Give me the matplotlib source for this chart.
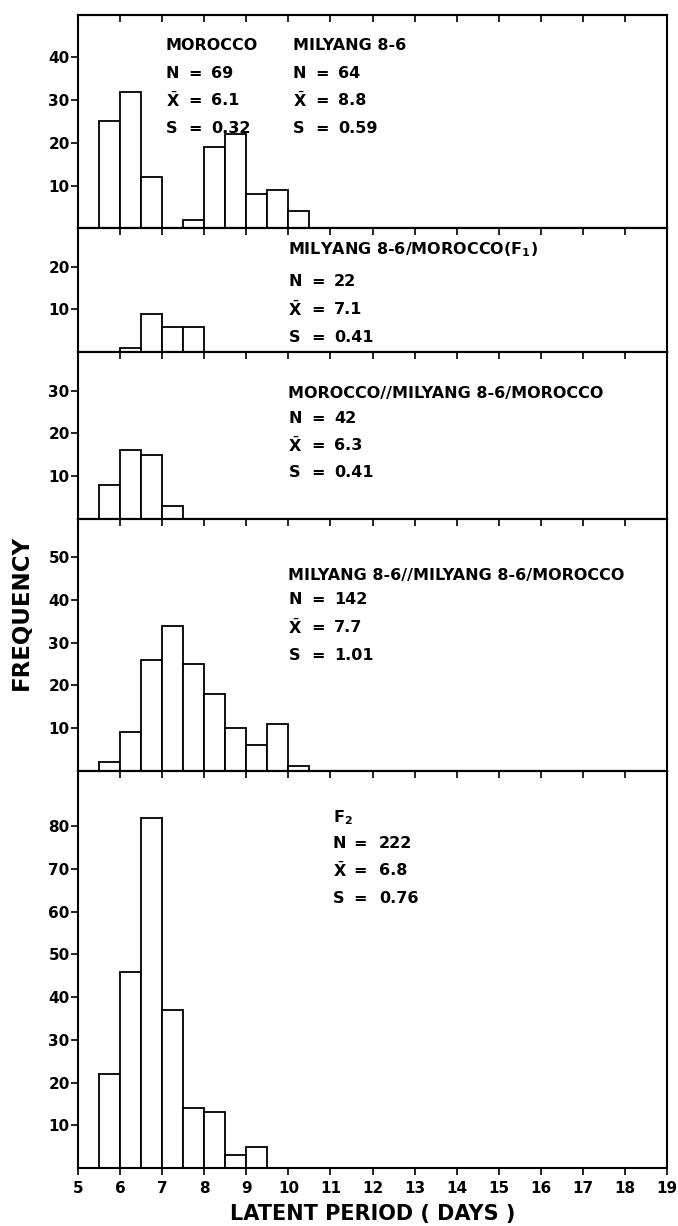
import matplotlib
matplotlib.use("Agg")
import matplotlib.pyplot as plt

plt.rcParams["font.family"] = ["DejaVu Sans"]
plt.rcParams["mathtext.fontset"] = "dejavusans"

# ---------------- data ----------------
bin_width = 0.5
x_ticks = list(range(5, 20))

p1_mor_edges = [5.5, 6.0, 6.5]
p1_mor_counts = [25, 32, 12]
p1_mil_edges = [7.5, 8.0, 8.5, 9.0, 9.5, 10.0]
p1_mil_counts = [2, 19, 22, 8, 9, 4]

p2_edges = [6.0, 6.5, 7.0, 7.5]
p2_counts = [1, 9, 6, 6]

p3_edges = [5.5, 6.0, 6.5, 7.0]
p3_counts = [8, 16, 15, 3]

p4_edges = [5.5, 6.0, 6.5, 7.0, 7.5, 8.0, 8.5, 9.0, 9.5, 10.0]
p4_counts = [2, 9, 26, 34, 25, 18, 10, 6, 11, 1]

p5_edges = [5.5, 6.0, 6.5, 7.0, 7.5, 8.0, 8.5, 9.0]
p5_counts = [22, 46, 82, 37, 14, 13, 3, 5]

panel_ylim = [50, 29, 39, 59, 93]
panel_yticks = [[10, 20, 30, 40], [10, 20], [10, 20, 30],
                [10, 20, 30, 40, 50], [10, 20, 30, 40, 50, 60, 70, 80]]

# stats blocks: (panel, x, title, N, mean, s, line y positions)
stat_blocks = [
    (0, 7.08, "MOROCCO", "69", "6.1", "0.32", [42.7, 36.2, 30.0, 23.4]),
    (0, 10.1, "MILYANG 8-6", "64", "8.8", "0.59", [42.7, 36.2, 30.0, 23.4]),
    (1, 10.0, r"MILYANG 8-6/MOROCCO($\mathbf{F}_\mathbf{1}$)", "22", "7.1", "0.41",
     [24.0, 16.6, 10.0, 3.5]),
    (2, 10.0, "MOROCCO//MILYANG 8-6/MOROCCO", "42", "6.3", "0.41",
     [29.3, 23.4, 17.1, 10.8]),
    (3, 10.0, "MILYANG 8-6//MILYANG 8-6/MOROCCO", "142", "7.7", "1.01",
     [45.8, 40.0, 33.6, 27.0]),
    (4, 11.05, r"$\mathbf{F}_\mathbf{2}$", "222", "6.8", "0.76",
     [82.0, 76.0, 69.6, 63.0]),
]

panel_bars = [
    [(p1_mor_edges, p1_mor_counts), (p1_mil_edges, p1_mil_counts)],
    [(p2_edges, p2_counts)],
    [(p3_edges, p3_counts)],
    [(p4_edges, p4_counts)],
    [(p5_edges, p5_counts)],
]

# ---------------- figure ----------------
fig = plt.figure(figsize=(6.78, 12.26), dpi=100)
gs = fig.add_gridspec(5, 1, height_ratios=panel_ylim, hspace=0,
                      left=0.115, right=0.984, top=0.988, bottom=0.0473)

fs = 11.5
axes = []
for i in range(5):
    ax = fig.add_subplot(gs[i])
    axes.append(ax)
    for edges, counts in panel_bars[i]:
        ax.bar(edges, counts, width=bin_width, align="edge",
               facecolor="white", edgecolor="black", linewidth=1.3, zorder=2)
    ax.set_xlim(5, 19)
    ax.set_ylim(0, panel_ylim[i])
    ax.set_yticks(panel_yticks[i])
    ax.set_yticklabels([str(v) for v in panel_yticks[i]],
                       fontsize=11, fontweight="bold")
    ax.tick_params(axis="y", direction="out", length=5, width=1.2, pad=1)
    for sp in ax.spines.values():
        sp.set_linewidth(1.5)
    ax.set_xticks(x_ticks)
    if i < 4:
        ax.tick_params(axis="x", bottom=False, labelbottom=False)
    else:
        ax.set_xticklabels([str(v) for v in x_ticks], fontsize=11, fontweight="bold")
        ax.tick_params(axis="x", direction="out", length=5, width=1.2, pad=4)
        ax.set_xlabel("LATENT PERIOD ( DAYS )", fontsize=15, fontweight="bold",
                      labelpad=6)
    sec = ax.secondary_xaxis("top")
    sec.set_xticks(x_ticks)
    sec.tick_params(axis="x", direction="in", length=5, width=1.2, labeltop=False)
    sec.spines["top"].set_linewidth(1.5)

for (pi, x0, title, n, mean, s, ys) in stat_blocks:
    ax = axes[pi]
    kw = dict(fontsize=fs, fontweight="bold", va="center", ha="left")
    ax.text(x0, ys[0], title, **kw)
    eq_off = 0.55 if pi < 4 else 0.5
    val_off = 1.08 if pi < 4 else 1.1
    for lab, val, y in [("N", n, ys[1]), (r"$\bar{\mathbf{X}}$", mean, ys[2]),
                        ("S", s, ys[3])]:
        ax.text(x0, y, lab, **kw)
        ax.text(x0 + eq_off, y, "=", **kw)
        ax.text(x0 + val_off, y, val, **kw)

fig.text(0.031, 0.5, "FREQUENCY", rotation=90, fontsize=16.5, fontweight="bold",
         ha="center", va="center")

fig.savefig("out.png", dpi=100)
